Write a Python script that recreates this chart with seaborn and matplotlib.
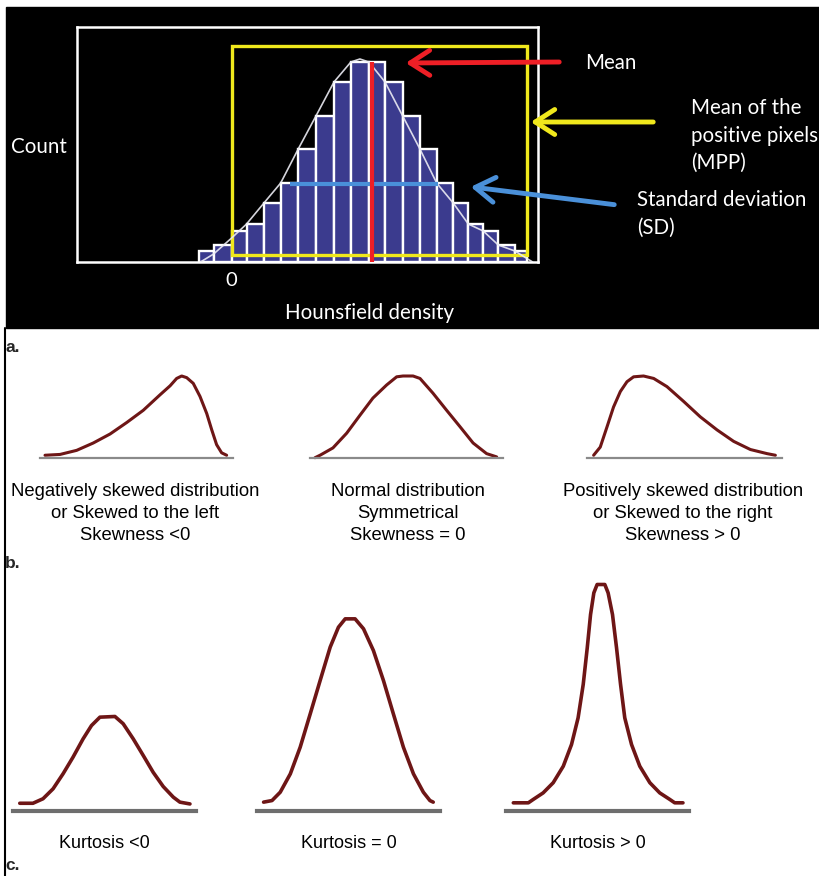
import numpy as np
import seaborn as sns
import matplotlib.pyplot as plt
from matplotlib.patches import Rectangle, FancyArrowPatch
from matplotlib.lines import Line2D

W, H = 819, 876

# ---- panel a: histogram (x in density units, 0 = MPP threshold) ----
bin_edges = [-2.0, -1.1, 0.0, 0.91, 1.97, 2.99, 4.06, 5.14, 6.24, 7.27, 8.37,
             9.35, 10.43, 11.48, 12.5, 13.51, 14.43, 15.34, 16.26, 17.27, 18.0]
counts = [11, 17, 31, 38, 59, 79, 113, 146, 180, 200,
          200, 180, 146, 113, 79, 59, 38, 31, 17, 11]
fit_x = [-1.9, -1.1, 0.0, 0.91, 1.97, 2.99, 4.06, 5.14, 6.24, 7.27, 7.82,
         8.37, 9.35, 10.43, 11.48, 12.5, 13.51, 14.43, 15.34, 16.26, 17.27, 18.35]
fit_y = [0, 8, 24, 38, 59, 79, 113, 146, 180, 200, 203,
         200, 180, 146, 113, 79, 59, 38, 31, 17, 11, 0]
mean_value = 8.54
mean_top = 200
sd_low, sd_high, sd_level = 3.55, 12.58, 78
mpp_low, mpp_high = 0.0, 18.0
mpp_bottom, mpp_top = 7, 216

# ---- panel b: skewness curves (x 0-10 along baseline, y relative height) ----
neg_x = [0.26, 1.04, 1.90, 2.76, 3.63, 4.49, 5.35, 6.22, 6.74, 7.08, 7.34,
         7.60, 7.94, 8.29, 8.64, 8.90, 9.15, 9.41, 9.67]
neg_y = [0.03, 0.04, 0.09, 0.18, 0.29, 0.43, 0.58, 0.77, 0.88, 0.97, 1.0,
         0.98, 0.91, 0.75, 0.54, 0.34, 0.16, 0.06, 0.03]
sym_x = [0.26, 0.52, 1.19, 1.90, 2.59, 3.26, 3.97, 4.49, 4.82, 5.34, 5.70,
         6.37, 7.08, 7.77, 8.45, 9.15, 9.67]
sym_y = [0.0, 0.03, 0.12, 0.30, 0.52, 0.73, 0.89, 0.99, 1.0, 1.0, 0.97,
         0.79, 0.58, 0.38, 0.18, 0.05, 0.01]
pos_x = [0.34, 0.68, 1.03, 1.36, 1.71, 2.05, 2.39, 2.90, 3.42, 4.10, 4.95,
         5.81, 6.67, 7.52, 8.38, 9.23, 9.66]
pos_y = [0.03, 0.13, 0.38, 0.62, 0.81, 0.93, 0.99, 1.0, 0.97, 0.87, 0.69,
         0.50, 0.34, 0.20, 0.10, 0.05, 0.03]
skew_labels = [["Negatively skewed distribution", "or Skewed to the left", "Skewness <0"],
               ["Normal distribution", "Symmetrical", "Skewness = 0"],
               ["Positively skewed distribution", "or Skewed to the right", "Skewness > 0"]]

# ---- panel c: kurtosis curves ----
platy_x = [0.37, 1.09, 1.64, 2.19, 2.74, 3.28, 3.83, 4.29, 4.75, 5.57, 6.02,
           6.57, 7.12, 7.66, 8.21, 8.76, 9.12, 9.67]
platy_y = [0.032, 0.032, 0.052, 0.096, 0.163, 0.236, 0.317, 0.376, 0.413, 0.416,
           0.384, 0.317, 0.243, 0.169, 0.106, 0.059, 0.037, 0.029]
meso_x = [0.36, 0.82, 1.27, 1.82, 2.36, 2.91, 3.45, 4.00, 4.45, 4.82, 5.36,
          5.82, 6.36, 6.91, 7.45, 8.00, 8.55, 9.09, 9.45, 9.63]
meso_y = [0.037, 0.044, 0.081, 0.162, 0.280, 0.428, 0.575, 0.723, 0.811, 0.848,
          0.848, 0.804, 0.708, 0.575, 0.428, 0.280, 0.162, 0.081, 0.044, 0.037]
lepto_x = [0.40, 1.22, 1.49, 2.03, 2.58, 3.13, 3.58, 3.94, 4.22, 4.44, 4.62,
           4.80, 4.98, 5.40, 5.58, 5.82, 6.04, 6.26, 6.49, 6.86, 7.31, 7.86,
           8.40, 8.95, 9.22, 9.67]
lepto_y = [0.034, 0.034, 0.049, 0.078, 0.123, 0.196, 0.292, 0.410, 0.558, 0.720,
           0.867, 0.963, 1.0, 1.0, 0.963, 0.867, 0.720, 0.558, 0.410, 0.292,
           0.196, 0.123, 0.078, 0.049, 0.034, 0.034]
kurt_labels = ["Kurtosis <0", "Kurtosis = 0", "Kurtosis > 0"]

sns.set_theme(style="white")
plt.rcParams['font.family'] = ['Lato', 'DejaVu Sans']


def box(x0, x1, top, bottom):
    # pixel box -> figure fraction rect
    return [x0 / W, 1 - bottom / H, (x1 - x0) / W, (bottom - top) / H]


def fpt(x, y):
    return (x / W, 1 - y / H)


fig = plt.figure(figsize=(W / 100, H / 100), dpi=100)
fig.patch.set_facecolor("white")

# black background of panel a
fig.add_artist(Rectangle(fpt(6, 328), (W - 6) / W, 321 / H,
                         transform=fig.transFigure, color="black", zorder=0))
# left frame line below panel a
fig.add_artist(Line2D([4.5 / W, 4.5 / W], [0, 1 - 328 / H], color="black", lw=1.5))

# ---------- panel a ----------
ax = fig.add_axes(box(77, 538, 27, 262))
ax.set_facecolor("none")
centers = (np.array(bin_edges[:-1]) + np.array(bin_edges[1:])) / 2
sns.histplot(x=centers, weights=counts, bins=bin_edges, ax=ax,
             color="#3b3b8e", edgecolor="white", linewidth=1.7, alpha=1)
ax.add_patch(Rectangle((mpp_low, mpp_bottom), mpp_high - mpp_low, mpp_top - mpp_bottom,
                       fill=False, edgecolor="#f0e81c", lw=2.4, zorder=4))
sns.lineplot(x=fit_x, y=fit_y, ax=ax, color="#ececf4", lw=1.2, alpha=0.9,
             estimator=None, sort=False, zorder=5)
ax.hlines(sd_level, sd_low, sd_high, color="#4a90d9", lw=3, zorder=6)
ax.vlines(mean_value, -2, mean_top, color="#ee1f26", lw=3, zorder=7)
ax.set_xlim(-9.43, 18.68)
ax.set_ylim(0, 235)
for s in ax.spines.values():
    s.set_color("white")
    s.set_linewidth(1.8)
ax.set_xticks([0])
ax.set_xticklabels(["0"], color="white", fontsize=14.5)
ax.tick_params(axis="x", length=0, pad=7)
ax.set_yticks([])
ax.set_xlabel("")
ax.set_ylabel("")

txt = dict(color="white", fontsize=14.8, va="center", ha="left")
fig.text(*fpt(11, 147), "Count", **txt)
fig.text(*fpt(585, 63), "Mean", **txt)
fig.text(*fpt(691, 108), "Mean of the", **txt)
fig.text(*fpt(691, 136), "positive pixels", **txt)
fig.text(*fpt(691, 163), "(MPP)", **txt)
fig.text(*fpt(637, 200), "Standard deviation", **txt)
fig.text(*fpt(637, 228), "(SD)", **txt)
fig.text(*fpt(370, 313), "Hounsfield density", color="white", fontsize=14.8,
         va="center", ha="center")

for (x1, y1), (x2, y2), col in [((562, 62), (403, 63), "#ee1f26"),
                                ((656, 122), (528, 122), "#f0e81c"),
                                ((617, 205), (468, 186.5), "#4a90d9")]:
    fig.add_artist(FancyArrowPatch(fpt(x1, y1), fpt(x2, y2), transform=fig.transFigure,
                                   arrowstyle="->,head_length=0.7,head_width=0.45",
                                   mutation_scale=20, lw=3.5, color=col))

# ---------- panel b ----------
curve_col = "#6e1616"
lab = dict(family=["Liberation Sans", "DejaVu Sans"], color="black")
for (xs, ys), (x0, x1), cx, lines in zip(
        [(neg_x, neg_y), (sym_x, sym_y), (pos_x, pos_y)],
        [(40, 233), (310, 503), (587, 782)],
        [135, 408, 683], skew_labels):
    bx = fig.add_axes(box(x0, x1, 376, 457.7))
    bx.set_facecolor("none")
    sns.lineplot(x=xs, y=ys, ax=bx, color=curve_col, lw=2.2,
                 estimator=None, sort=False)
    for l in bx.lines:
        l.set_clip_on(False)
    bx.set_xlim(0, 10)
    bx.set_ylim(0, 1)
    for side in ["top", "left", "right"]:
        bx.spines[side].set_visible(False)
    bx.spines["bottom"].set_color("#8a8a8a")
    bx.spines["bottom"].set_linewidth(1.6)
    bx.set_xticks([])
    bx.set_yticks([])
    for k, line in enumerate(lines):
        fig.text(*fpt(cx, 491 + 22 * k), line, ha="center", va="center",
                 fontsize=13.3, **lab)

# ---------- panel c ----------
for (xs, ys), (x0, x1), label in zip(
        [(platy_x, platy_y), (meso_x, meso_y), (lepto_x, lepto_y)],
        [(13, 196), (257, 440), (506, 689)], kurt_labels):
    cxs = fig.add_axes(box(x0, x1, 584.5, 810.5))
    cxs.set_facecolor("none")
    sns.lineplot(x=xs, y=ys, ax=cxs, color=curve_col, lw=2.6,
                 estimator=None, sort=False)
    for l in cxs.lines:
        l.set_clip_on(False)
    cxs.set_xlim(0, 10)
    cxs.set_ylim(0, 1)
    for side in ["top", "left", "right"]:
        cxs.spines[side].set_visible(False)
    cxs.spines["bottom"].set_color("#6e6e6e")
    cxs.spines["bottom"].set_linewidth(3)
    cxs.set_xticks([])
    cxs.set_yticks([])
    fig.text(*fpt((x0 + x1) / 2, 844), label, ha="center", va="center",
             fontsize=13, **lab)

# panel letters
for letter, y in [("a.", 348), ("b.", 563), ("c.", 866)]:
    fig.text(*fpt(5, y), letter, ha="left", va="center", fontsize=12.5,
             fontweight="bold", family=["Liberation Sans", "DejaVu Sans"])

fig.savefig("out.png", dpi=100)
